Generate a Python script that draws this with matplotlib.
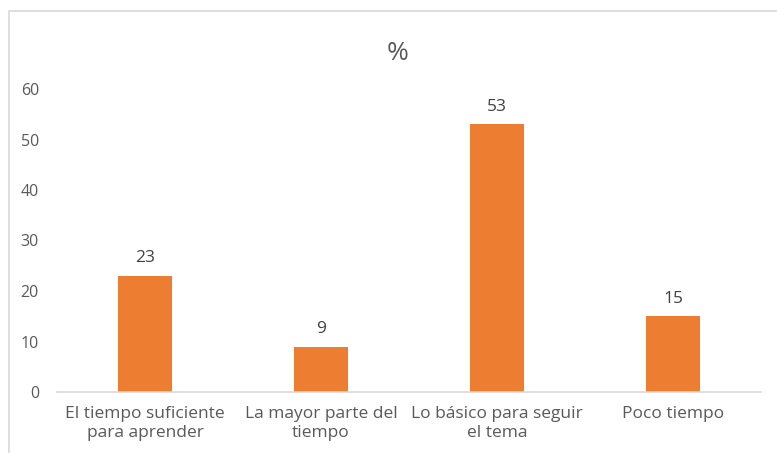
import matplotlib.pyplot as plt
from matplotlib.patches import Rectangle

categories = ["El tiempo suficiente\npara aprender",
              "La mayor parte del\ntiempo",
              "Lo básico para seguir\nel tema",
              "Poco tiempo"]
values = [23, 9, 53, 15]
yticks = [0, 10, 20, 30, 40, 50, 60]

plt.rcParams["font.family"] = ["Open Sans", "DejaVu Sans"]
text_color = "#595959"
bar_color = "#ED7D31"

W, H = 777, 453
fig = plt.figure(figsize=(W / 100, H / 100), dpi=100)

# outer chart border (runs off the right and bottom edges)
fig.patches.append(Rectangle((9 / W, -0.1), 1.0, 1 - 11 / H + 0.1,
                             transform=fig.transFigure, fill=False,
                             edgecolor="#d9d9d9", linewidth=1.2))

ax = fig.add_axes([57 / W, 61 / H, 704 / W, 303 / H])
x = range(len(categories))
ax.bar(x, values, width=0.31, color=bar_color, zorder=2)

for xi, v in zip(x, values):
    ax.text(xi, v + 1.9, str(v), ha="center", va="bottom",
            fontsize=12.5, color="#404040")

ax.set_xlim(-0.5, len(categories) - 0.5)
ax.set_ylim(0, 60)
ax.set_yticks(yticks)
ax.set_xticks(list(x))
ax.set_xticklabels(categories, fontsize=12.5, color=text_color,
                   linespacing=1.3)
ax.tick_params(axis="y", length=0, pad=13, labelsize=11.5,
               labelcolor=text_color)
ax.tick_params(axis="x", length=0, pad=10)

for side in ("top", "right", "left"):
    ax.spines[side].set_visible(False)
ax.spines["bottom"].set_color("#d9d9d9")
ax.spines["bottom"].set_linewidth(1.2)

fig.text(398 / W, 1 - 53 / H, "%", ha="center", va="center",
         fontsize=19, color=text_color)

fig.savefig("out.png", dpi=100)
